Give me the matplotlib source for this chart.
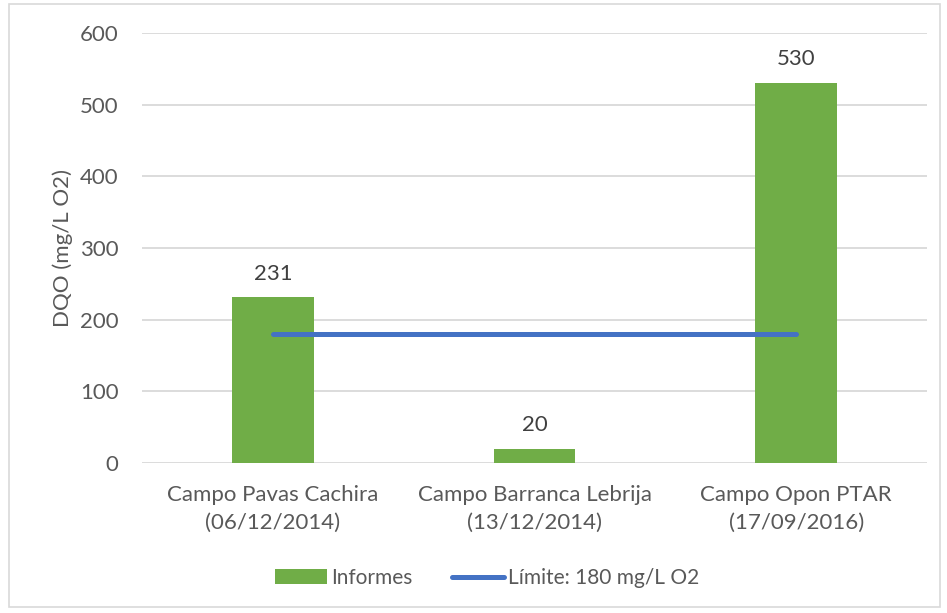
import matplotlib
matplotlib.use("Agg")
import matplotlib.pyplot as plt
import numpy as np
from matplotlib.patches import Rectangle

plt.rcParams["font.family"] = ["Lato", "DejaVu Sans"]

categories = ["Campo Pavas Cachira\n(06/12/2014)",
              "Campo Barranca Lebrija\n(13/12/2014)",
              "Campo Opon PTAR\n(17/09/2016)"]
informes = [231, 20, 530]
limite = [180, 180, 180]
yticks = [0, 100, 200, 300, 400, 500, 600]

text_col = "#595959"
grid_col = "#D9D9D9"
fs = 16

fig = plt.figure(figsize=(9.47, 6.13), dpi=100)
ax = fig.add_axes([142 / 947, 1 - 463 / 613, 785 / 947, 430 / 613])

x = np.arange(len(categories))
bars = ax.bar(x, informes, width=0.313, color="#70AD47", label="Informes", zorder=2)
line, = ax.plot(x, limite, color="#4472C4", lw=3.6, solid_capstyle="round",
                label="Límite: 180 mg/L O2", zorder=3)

for xi, v in zip(x, informes):
    ax.annotate(str(v), (xi, v), xytext=(0, 10), textcoords="offset points",
                ha="center", va="bottom", fontsize=fs, color="#404040")

ax.set_xlim(-0.5, 2.5)
ax.set_ylim(0, 600)
ax.set_yticks(yticks)
ax.set_xticks(x)
ax.set_xticklabels(categories, fontsize=fs, color=text_col, linespacing=1.45)
ax.tick_params(axis="y", labelsize=fs, labelcolor=text_col, length=0, pad=17)
ax.tick_params(axis="x", length=0, pad=16)
ax.yaxis.grid(True, color=grid_col, lw=1.3, zorder=0)
ax.set_axisbelow(True)
for s in ax.spines.values():
    s.set_visible(False)
ax.set_ylabel("DQO (mg/L O2)", fontsize=fs, color=text_col)
ax.yaxis.set_label_coords(-0.088, 0.5)

fig.legend([bars, line], ["Informes", "Límite: 180 mg/L O2"],
           loc="center", bbox_to_anchor=(487 / 947, 1 - 578 / 613), ncol=2,
           frameon=False, fontsize=15, labelcolor=text_col, handlelength=2.5,
           columnspacing=1.9, handletextpad=0.2)

fig.patches.append(Rectangle((9 / 947, 1 - 607 / 613), 931 / 947, 603 / 613,
                             transform=fig.transFigure, fill=False,
                             edgecolor=grid_col, lw=1.2))

fig.savefig("out.png", dpi=100)
